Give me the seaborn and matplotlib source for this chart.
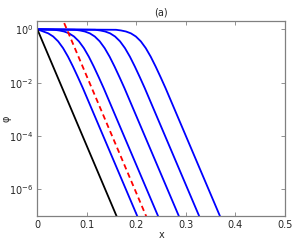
import matplotlib
matplotlib.use("Agg")
import matplotlib.pyplot as plt
import pandas as pd
import seaborn as sns

sns.set_style("ticks")
plt.rcParams['font.family'] = ['DejaVu Sans']
plt.rcParams['mathtext.fontset'] = 'dejavusans'

# values
black_x = [0.0, 0.17]
black_phi = [1.0, 3.6e-8]

red_x = [0.04, 0.23]
red_phi = [7.2, 3.5e-8]

blue1_x = [0.0, 0.012, 0.022, 0.032, 0.042, 0.052, 0.062, 0.072, 0.082, 0.092, 0.222]
blue1_phi = [1.0, 0.828, 0.706, 0.538, 0.354, 0.197, 0.094, 0.040, 0.016, 0.0062, 1.3e-8]

blue2_x = [0.0, 0.034, 0.044, 0.054, 0.064, 0.074, 0.084, 0.094, 0.104, 0.114, 0.124, 0.134, 0.264]
blue2_phi = [1.0, 0.96, 0.906, 0.828, 0.706, 0.538, 0.354, 0.197, 0.094, 0.040, 0.016, 0.0062, 1.3e-8]

blue3_x = [0.0, 0.076, 0.086, 0.096, 0.106, 0.116, 0.126, 0.136, 0.146, 0.156, 0.166, 0.176, 0.306]
blue3_phi = [1.0, 0.96, 0.906, 0.828, 0.706, 0.538, 0.354, 0.197, 0.094, 0.040, 0.016, 0.0062, 1.3e-8]

blue4_x = [0.0, 0.117, 0.127, 0.137, 0.147, 0.157, 0.167, 0.177, 0.187, 0.197, 0.207, 0.217, 0.347]
blue4_phi = [1.0, 0.96, 0.906, 0.828, 0.706, 0.538, 0.354, 0.197, 0.094, 0.040, 0.016, 0.0062, 1.3e-8]

blue5_x = [0.0, 0.159, 0.169, 0.179, 0.189, 0.199, 0.209, 0.219, 0.229, 0.239, 0.249, 0.259, 0.389]
blue5_phi = [1.0, 0.96, 0.906, 0.828, 0.706, 0.538, 0.354, 0.197, 0.094, 0.040, 0.016, 0.0062, 1.3e-8]

x_ticks = [0, 0.1, 0.2, 0.3, 0.4, 0.5]
x_tick_labels = ['0', '0.1', '0.2', '0.3', '0.4', '0.5']
y_ticks = [1e-6, 1e-4, 1e-2, 1e0]
y_tick_labels = ['$10^{-6}$', '$10^{-4}$', '$10^{-2}$', '$10^{0}$']

fig = plt.figure(figsize=(2.94, 2.41), dpi=100)
ax = fig.add_axes([0.127, 0.104, 0.842, 0.81])

blues = [(blue1_x, blue1_phi), (blue2_x, blue2_phi), (blue3_x, blue3_phi),
         (blue4_x, blue4_phi), (blue5_x, blue5_phi)]
for bx, by in blues:
    d = pd.DataFrame({'x': bx, 'phi': by})
    sns.lineplot(data=d, x='x', y='phi', ax=ax, color='#0000ff', lw=1.3,
                 sort=False, estimator=None)

d = pd.DataFrame({'x': black_x, 'phi': black_phi})
sns.lineplot(data=d, x='x', y='phi', ax=ax, color='black', lw=1.3, sort=False, estimator=None)

d = pd.DataFrame({'x': red_x, 'phi': red_phi})
sns.lineplot(data=d, x='x', y='phi', ax=ax, color='#ff0000', lw=1.3, sort=False,
             estimator=None, linestyle=(0, (3, 2)))

ax.set_yscale('log')
ax.set_xlim(0, 0.5)
ax.set_ylim(1e-7, 2.1)
ax.set_xticks(x_ticks)
ax.set_xticklabels(x_tick_labels)
ax.set_yticks(y_ticks)
ax.set_yticklabels(y_tick_labels)
ax.minorticks_off()

for s in ax.spines.values():
    s.set_color('#808080')
    s.set_linewidth(0.9)
ax.tick_params(direction='in', length=3, width=0.6, color='#808080',
               labelsize=7, top=True, right=True, pad=3)

ax.set_xlabel('x', fontsize=7)
ax.xaxis.set_label_coords(0.5, -0.07)
ax.set_ylabel('φ', fontsize=7)
ax.yaxis.set_label_coords(-0.105, 0.5)
ax.set_title('(a)', fontsize=7, pad=4)

fig.savefig('out.png', dpi=100)
